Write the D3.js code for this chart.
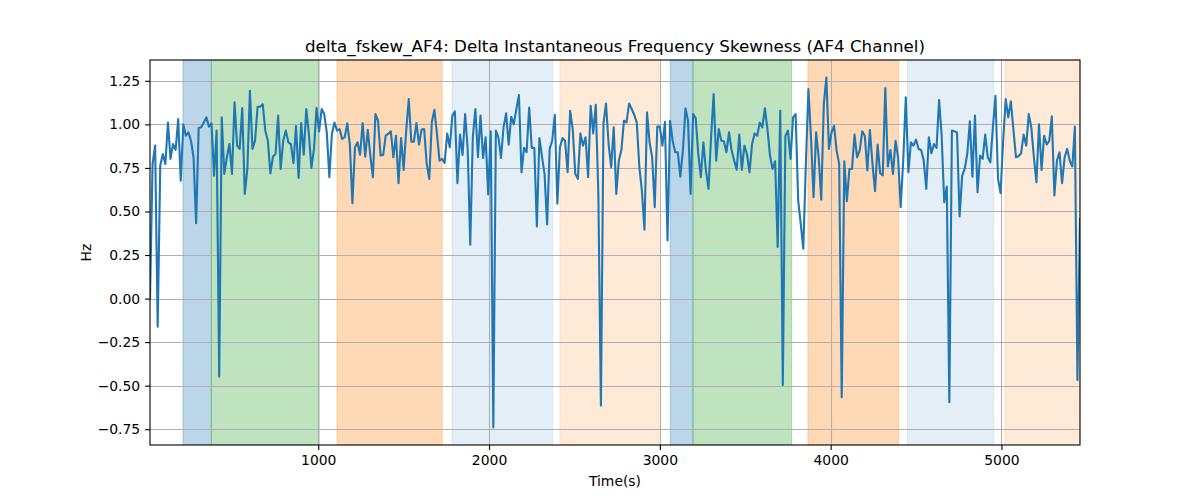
<!DOCTYPE html>
<html>
<head>
<meta charset="utf-8">
<script src="https://cdn.jsdelivr.net/npm/d3@7"></script>
<style>
  html, body { margin: 0; padding: 0; background: #fff; }
  svg { display: block; font-family: "DejaVu Sans", sans-serif; }
</style>
</head>
<body>
<svg id="chart" width="1200" height="500"></svg>
<script>
// ---- data ----
const startTime = 15;
const timeStep = 15;
const values = [
  0.0, 0.773, 0.878, -0.162, 0.763, 0.830, 0.773, 1.011, 0.802, 0.887,
  0.853, 1.031, 0.677, 1.0, 0.935, 0.954, 0.906, 0.811, 0.433, 0.979,
  0.983, 1.011, 1.040, 0.987, 1.006, 0.706, 0.964, -0.448, 1.040, 0.716,
  0.811, 0.887, 0.716, 1.126, 0.878, 0.859, 1.093, 0.601, 0.744, 1.193,
  0.859, 0.906, 1.101, 1.101, 1.116, 0.964, 0.906, 0.719, 0.815, 0.830,
  1.050, 0.744, 0.906, 0.964, 0.897, 0.887, 0.777, 0.991, 0.693, 1.008,
  0.826, 1.088, 0.945, 0.75, 0.859, 1.093, 0.960, 1.088, 1.059, 0.954,
  0.697, 0.945, 1.011, 0.964, 0.973, 0.916, 0.926, 1.006, 0.887, 0.548,
  0.868, 0.897, 0.826, 1.008, 0.815, 0.969, 0.821, 0.697, 1.059, 1.021,
  0.821, 0.824, 0.935, 0.945, 0.960, 0.811, 0.935, 0.662, 0.922, 0.739,
  0.964, 1.145, 0.901, 0.901, 1.008, 0.884, 0.971, 0.973, 0.773, 0.687,
  1.011, 1.084, 0.945, 0.792, 0.802, 0.779, 0.948, 0.868, 1.050, 1.074,
  0.662, 0.941, 0.824, 1.059, 0.859, 0.309, 0.926, 1.088, 0.811, 1.050,
  0.807, 0.926, 0.597, 0.960, -0.740, 0.964, 0.926, 0.807, 0.983, 1.063,
  0.884, 1.044, 1.0, 1.088, 1.168, 0.725, 0.865, 0.840, 1.097, 0.865,
  0.865, 0.414, 0.922, 0.815, 0.716, 0.426, 0.859, 0.906, 1.055, 0.544,
  0.868, 0.922, 0.906, 0.725, 1.078, 0.973, 0.716, 0.687, 0.948, 0.878,
  0.926, 0.697, 1.107, 0.948, 1.113, 0.601, -0.614, 1.006, 1.120, 0.887,
  0.754, 0.983, 0.601, 0.792, 0.853, 1.021, 1.011, 1.120, 1.088, 1.055,
  1.011, 0.754, 0.620, 0.395, 1.069, 0.897, 0.811, 0.525, 0.987, 0.987,
  0.878, 1.015, 0.334, 1.021, 0.906, 0.840, 0.840, 0.700, 0.849, 1.092,
  1.021, 0.601, 1.059, 1.036, 0.830, 0.697, 0.897, 0.735, 0.630, 0.926,
  1.174, 0.792, 0.973, 0.906, 0.903, 0.840, 0.954, 0.853, 0.792, 0.739,
  0.941, 0.739, 0.878, 0.830, 0.725, 0.887, 0.948, 0.935, 1.011, 0.983,
  1.092, 0.973, 0.821, 0.744, 0.788, 0.296, 1.078, -0.496, 0.935, 0.964,
  0.802, 1.040, 1.059, 0.563, 0.429, 0.286, 0.773, 1.202, 0.926, 0.582,
  0.954, 0.811, 0.567, 1.116, 1.269, 0.859, 0.954, 0.992, 0.849, 0.773,
  -0.567, 0.788, 0.559, 0.744, 0.744, 0.941, 0.811, 0.849, 0.960, 0.935,
  0.735, 0.968, 0.773, 0.616, 0.884, 0.719, 0.706, 1.208, 0.758, 0.853,
  0.716, 0.906, 0.811, 0.525, 0.792, 1.155, 0.725, 0.897, 0.878, 0.912,
  0.859, 0.853, 0.792, 0.630, 0.926, 0.834, 0.887, 0.865, 1.139, 0.935,
  0.553, 0.643, -0.595, 0.964, 0.960, 0.954, 0.471, 0.706, 0.744, 0.830,
  1.017, 0.700, 1.050, 0.611, 0.821, 0.802, 0.941, 0.811, 0.782, 0.983,
  1.164, 0.687, 0.605, 0.906, 1.145, 1.040, 1.132, 0.973, 0.811, 0.817,
  0.834, 0.941, 0.878, 1.059, 0.983, 0.811, 0.668, 1.0, 0.739, 0.935,
  0.884, 0.906, 1.046, 0.592, 0.792, 0.840, 0.662, 0.811, 0.859, 0.792,
  0.758, 0.987, -0.468, 0.458
];
const times = values.map((_, i) => startTime + i * timeStep);

// shaded segments: start, end, kind
const bandStarts = [208, 374, 1110, 1783, 2415, 3061, 3194, 3867, 4449, 5021];
const bandEnds   = [374, 1006, 1726, 2372, 2995, 3194, 3772, 4398, 4955, 5460];
const bandKinds  = ["blue", "green", "orange", "lightblue", "lightorange",
                    "blue", "green", "orange", "lightblue", "lightorange"];

const xTicks = [1000, 2000, 3000, 4000, 5000];
const yTicks = [-0.75, -0.5, -0.25, 0, 0.25, 0.5, 0.75, 1.0, 1.25];

const titleText = "delta_fskew_AF4: Delta Instantaneous Frequency Skewness (AF4 Channel)";
const xLabelText = "Time(s)";
const yLabelText = "Hz";

// ---- drawing ----
const bandFill = {
  blue: "rgba(31,119,180,0.30)",
  green: "rgba(44,160,44,0.30)",
  orange: "rgba(255,127,14,0.30)",
  lightblue: "rgba(31,119,180,0.12)",
  lightorange: "rgba(255,127,14,0.16)"
};

const svg = d3.select("#chart");
const L = 150, R = 1080, T = 60, B = 445;

const x = d3.scaleLinear().domain([times[0], times[times.length - 1]]).range([L, R]);
const yMin = d3.min(values), yMax = d3.max(values);
const pad = (yMax - yMin) * 0.05;
const y = d3.scaleLinear().domain([yMin - pad, yMax + pad]).range([B, T]);

svg.append("defs").append("clipPath").attr("id", "clip")
  .append("rect").attr("x", L).attr("y", T).attr("width", R - L).attr("height", B - T);

const plot = svg.append("g").attr("clip-path", "url(#clip)");

// bands
const bands = bandStarts.map((s, i) => ({ s, e: bandEnds[i], k: bandKinds[i] }));
plot.selectAll("rect.band").data(bands).enter().append("rect")
  .attr("class", "band")
  .attr("x", d => x(d.s))
  .attr("width", d => x(d.e) - x(d.s))
  .attr("y", T)
  .attr("height", B - T)
  .attr("fill", d => bandFill[d.k])
  .attr("stroke", d => bandFill[d.k])
  .attr("stroke-width", 1);

// grid
const gridColor = "#b0b0b0";
plot.selectAll("line.gx").data(xTicks).enter().append("line")
  .attr("x1", d => Math.round(x(d)) + 0.5).attr("x2", d => Math.round(x(d)) + 0.5)
  .attr("y1", T).attr("y2", B)
  .attr("stroke", gridColor).attr("stroke-width", 1.1);
plot.selectAll("line.gy").data(yTicks).enter().append("line")
  .attr("y1", d => Math.round(y(d)) + 0.5).attr("y2", d => Math.round(y(d)) + 0.5)
  .attr("x1", L).attr("x2", R)
  .attr("stroke", gridColor).attr("stroke-width", 1.1);

// line
const line = d3.line().x((d, i) => x(times[i])).y(d => y(d));
plot.append("path").datum(values)
  .attr("d", line)
  .attr("fill", "none")
  .attr("stroke", "#1f77b4")
  .attr("stroke-width", 2.1)
  .attr("stroke-linejoin", "round")
  .attr("stroke-linecap", "square");

// axes
const fmtY = d => d3.format(".2f")(d).replace("-", "\u2212");
const xAxis = d3.axisBottom(x).tickValues(xTicks).tickFormat(d3.format("d"))
  .tickSize(4.9).tickPadding(4.9);
const yAxis = d3.axisLeft(y).tickValues(yTicks).tickFormat(fmtY)
  .tickSize(4.9).tickPadding(4.9);

const gx = svg.append("g").attr("transform", `translate(0,${B})`).call(xAxis);
const gy = svg.append("g").attr("transform", `translate(${L},0)`).call(yAxis);
[gx, gy].forEach(g => {
  g.select(".domain").remove();
  g.selectAll(".tick line").attr("stroke", "#000").attr("stroke-width", 1.1);
  g.selectAll(".tick text").attr("fill", "#000")
    .attr("font-family", "DejaVu Sans, sans-serif").attr("font-size", "13.9px");
});

// spines
svg.append("rect").attr("x", L).attr("y", T).attr("width", R - L).attr("height", B - T)
  .attr("fill", "none").attr("stroke", "#000").attr("stroke-width", 1.1);

// labels
svg.append("text").attr("x", (L + R) / 2).attr("y", 52)
  .attr("text-anchor", "middle").attr("font-size", "16.7px").attr("fill", "#000")
  .text(titleText);
svg.append("text").attr("x", (L + R) / 2).attr("y", 486)
  .attr("text-anchor", "middle").attr("font-size", "13.9px").attr("fill", "#000")
  .text(xLabelText);
svg.append("text").attr("transform", `translate(91,${(T + B) / 2}) rotate(-90)`)
  .attr("text-anchor", "middle").attr("font-size", "13.9px").attr("fill", "#000")
  .text(yLabelText);
</script>
</body>
</html>
